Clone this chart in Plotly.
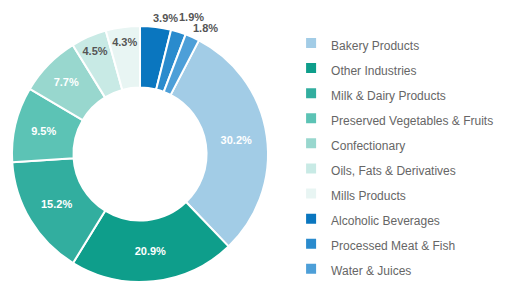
import math
import plotly.graph_objects as go

labels = ["Bakery Products", "Other Industries", "Milk & Dairy Products",
          "Preserved Vegetables & Fruits", "Confectionary", "Oils, Fats & Derivatives",
          "Mills Products", "Alcoholic Beverages", "Processed Meat & Fish", "Water & Juices"]
values = [30.2, 20.9, 15.2, 9.5, 7.7, 4.5, 4.3, 3.9, 1.9, 1.8]
colors = ["#a2cce6", "#0e9e8b", "#32ae9f", "#5cc3b5", "#98d7ce", "#c8eae5",
          "#e8f5f3", "#0a76bf", "#2a8bcd", "#4d9fd8"]
# small slices get their labels outside the ring (drawn as annotations)
outside = [False] * 7 + [True] * 3
text_col = ["white"] * 5 + ["#555555"] * 5

W, H = 511, 290
CX, CY, R = 132, 146, 128          # pie centre and radius in figure pixels
ROT = 27.4                          # start angle of first slice (deg, clockwise from top)
label_r = [1.09, 1.14, 1.10]        # radial distance of outside labels (x radius)

legend_labels = ['<span style="font-size:12px">%s</span>' % l for l in labels]

fig = go.Figure(go.Pie(
    labels=legend_labels,
    values=values,
    marker=dict(colors=colors, line=dict(color="white", width=2)),
    hole=0.52,
    sort=False,
    direction="clockwise",
    rotation=ROT,
    texttemplate="%{value:.1f}%",
    textposition=["none" if o else "inside" for o in outside],
    insidetextorientation="horizontal",
    textfont=dict(color=text_col, size=11, family="Liberation Sans", weight="bold"),
    domain=dict(x=[(CX - R) / W, (CX + R) / W], y=[(H - CY - R) / H, (H - CY + R) / H]),
))

# outside labels, positioned from the slice mid-angles
total = sum(values)
cum = 0.0
k = 0
for v, o in zip(values, outside):
    mid = ROT + 360.0 * (cum + v / 2) / total
    cum += v
    if o:
        th = math.radians(mid)
        r = R * label_r[k]
        k += 1
        px = CX + 8 + r * math.sin(th)
        py = CY + 2 - r * math.cos(th)
        fig.add_annotation(x=px / W, y=(H - py) / H, xref="paper", yref="paper",
                           xanchor="center", yanchor="middle",
                           text="%.1f%%" % v, showarrow=False,
                           font=dict(size=11, color="#555555", family="Liberation Sans",
                                     weight="bold"))

fig.update_layout(
    width=W, height=H,
    margin=dict(l=0, r=0, t=0, b=0, autoexpand=False),
    paper_bgcolor="white",
    uniformtext=dict(minsize=11, mode="show"),
    legend=dict(x=0.554, y=0.94, xanchor="left", yanchor="top", maxheight=1,
                font=dict(size=17, color="#666666", family="Liberation Sans")),
)

fig.write_html("out.html")
